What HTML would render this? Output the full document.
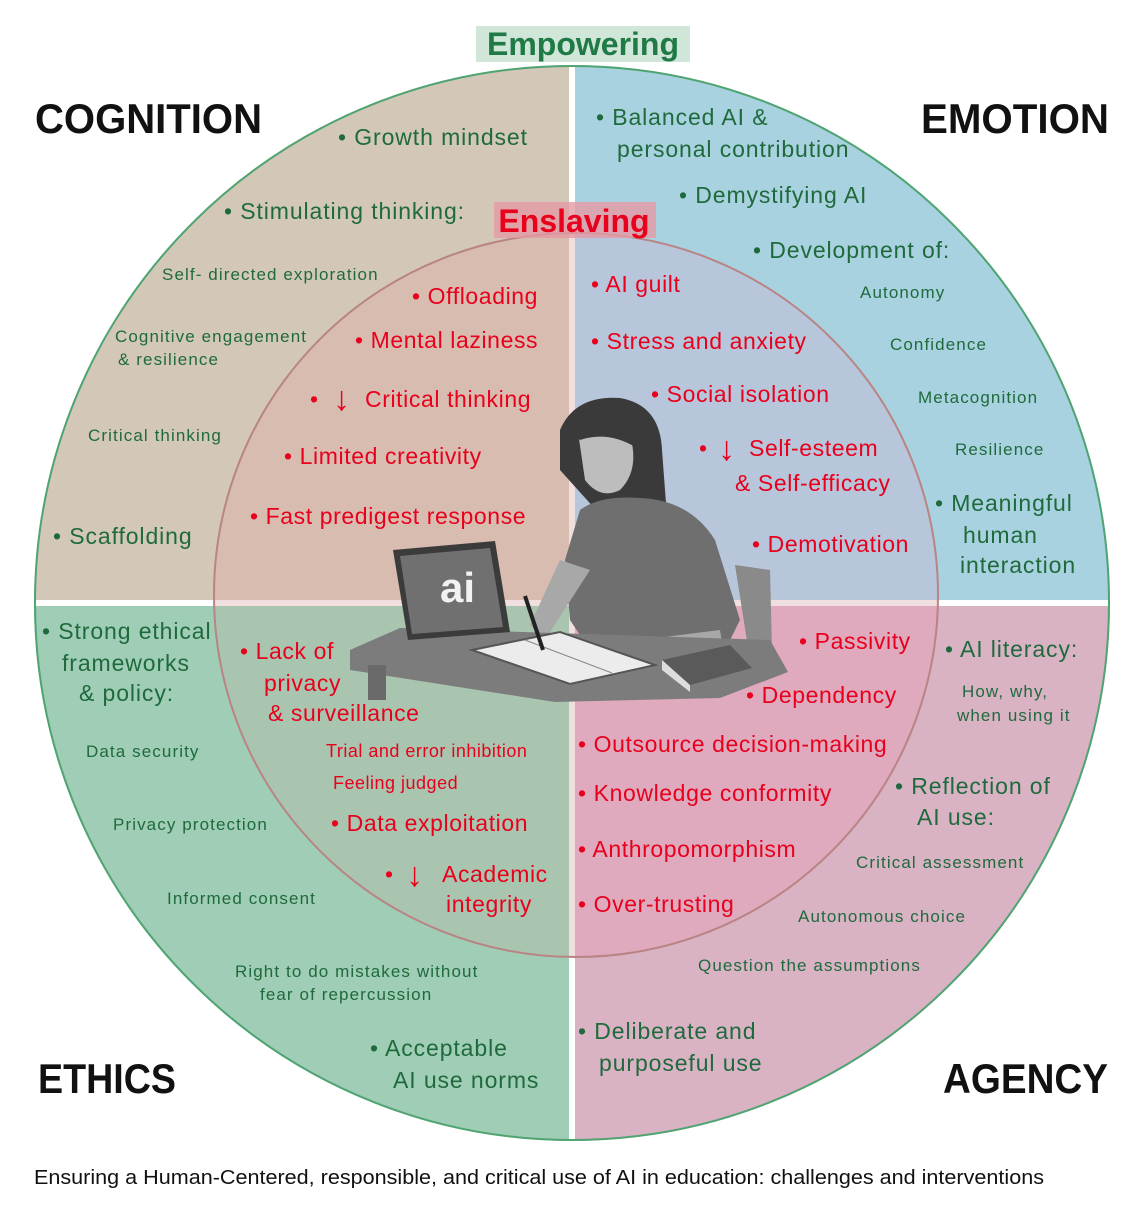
<!DOCTYPE html>
<html><head><meta charset="utf-8"><style>
html,body{margin:0;padding:0;background:#fff;}
svg{display:block;}
text{font-family:"Liberation Sans",sans-serif;}
.g{fill:#1f6a3c;font-size:23px;letter-spacing:0.9px;}
.gs{fill:#1f6a3c;font-size:17px;letter-spacing:1.1px;}
.r{fill:#e8001c;font-size:23px;letter-spacing:0.6px;}
.rs{fill:#e8001c;font-size:18px;letter-spacing:0.5px;}
.big{fill:#111;font-size:42px;font-weight:bold;}
</style></head><body>
<svg width="1134" height="1208" viewBox="0 0 1134 1208" xmlns="http://www.w3.org/2000/svg">
<defs>
<clipPath id="oc"><circle cx="572" cy="603" r="538"/></clipPath>
<clipPath id="ic"><circle cx="576" cy="595" r="362"/></clipPath>
</defs>
<g clip-path="url(#oc)">
<rect x="0" y="0" width="569" height="600" fill="#d3c8b8"/>
<rect x="575" y="0" width="600" height="600" fill="#a9d2e0"/>
<rect x="0" y="606" width="569" height="600" fill="#9fcdb5"/>
<rect x="575" y="606" width="600" height="600" fill="#d9b2c4"/>
</g>
<circle cx="572" cy="603" r="537" fill="none" stroke="#4fa472" stroke-width="2"/>
<g clip-path="url(#ic)">
<rect x="0" y="0" width="569" height="600" fill="#d8bcb0"/>
<rect x="575" y="0" width="600" height="600" fill="#b7c6da"/>
<rect x="0" y="606" width="569" height="600" fill="#a9c5b0"/>
<rect x="575" y="606" width="600" height="600" fill="#dfa9be"/>
<rect x="569" y="0" width="6" height="1208" fill="#f1dede"/>
<rect x="0" y="600" width="1134" height="6" fill="#f1dede"/>
</g>
<circle cx="576" cy="595" r="362" fill="none" stroke="#b98484" stroke-width="2"/>

<rect x="476" y="26" width="214" height="36" fill="#cfe6d9"/>
<text x="583" y="55" text-anchor="middle" style="font-size:32px;font-weight:bold;fill:#1f7a45">Empowering</text>
<rect x="494" y="202" width="162" height="36" fill="#e49aa4" opacity="0.8"/>
<text x="574" y="232" text-anchor="middle" style="font-size:32px;font-weight:bold;fill:#e8001c">Enslaving</text>

<text class="big" x="35" y="133" textLength="227" lengthAdjust="spacingAndGlyphs">COGNITION</text>
<text class="big" x="921" y="133" textLength="188" lengthAdjust="spacingAndGlyphs">EMOTION</text>
<text class="big" x="38" y="1093" textLength="138" lengthAdjust="spacingAndGlyphs">ETHICS</text>
<text class="big" x="943" y="1093" textLength="165" lengthAdjust="spacingAndGlyphs">AGENCY</text>

<text class="g" x="338" y="145">•  Growth mindset</text>
<text class="g" x="224" y="219">•  Stimulating thinking:</text>
<text class="gs" x="162" y="280">Self- directed exploration</text>
<text class="gs" x="115" y="342">Cognitive engagement</text>
<text class="gs" x="118" y="365">&amp; resilience</text>
<text class="gs" x="88" y="441">Critical thinking</text>
<text class="g" x="53" y="544">•  Scaffolding</text>

<text class="g" x="596" y="125">•  Balanced AI &amp;</text>
<text class="g" x="617" y="157">personal contribution</text>
<text class="g" x="679" y="203">•  Demystifying AI</text>
<text class="g" x="753" y="258">•  Development of:</text>
<text class="gs" x="860" y="298">Autonomy</text>
<text class="gs" x="890" y="350">Confidence</text>
<text class="gs" x="918" y="403">Metacognition</text>
<text class="gs" x="955" y="455">Resilience</text>
<text class="g" x="935" y="511">•  Meaningful</text>
<text class="g" x="963" y="543">human</text>
<text class="g" x="960" y="573">interaction</text>

<text class="g" x="42" y="639">• Strong ethical</text>
<text class="g" x="62" y="671">frameworks</text>
<text class="g" x="79" y="701">&amp; policy:</text>
<text class="gs" x="86" y="757">Data security</text>
<text class="gs" x="113" y="830">Privacy protection</text>
<text class="gs" x="167" y="904">Informed consent</text>
<text class="gs" x="235" y="977">Right to do mistakes without</text>
<text class="gs" x="260" y="1000">fear of repercussion</text>
<text class="g" x="370" y="1056">•  Acceptable</text>
<text class="g" x="393" y="1088">AI use norms</text>

<text class="g" x="945" y="657">•  AI literacy:</text>
<text class="gs" x="962" y="697">How, why,</text>
<text class="gs" x="957" y="721">when using it</text>
<text class="g" x="895" y="794">•  Reflection of</text>
<text class="g" x="917" y="825">AI use:</text>
<text class="gs" x="856" y="868">Critical assessment</text>
<text class="gs" x="798" y="922">Autonomous choice</text>
<text class="gs" x="698" y="971">Question the assumptions</text>
<text class="g" x="578" y="1039">•  Deliberate and</text>
<text class="g" x="599" y="1071">purposeful use</text>

<text class="r" x="412" y="304">•  Offloading</text>
<text class="r" x="355" y="348">•  Mental laziness</text>
<text class="r" x="310" y="407">•</text>
<text style="font-size:34px;fill:#e8001c" x="333" y="410">↓</text>
<text class="r" x="365" y="407">Critical thinking</text>
<text class="r" x="284" y="464">•  Limited creativity</text>
<text class="r" x="250" y="524">•  Fast predigest response</text>
<text class="r" x="591" y="292">• AI guilt</text>
<text class="r" x="591" y="349">•  Stress and anxiety</text>
<text class="r" x="651" y="402">•  Social isolation</text>
<text class="r" x="699" y="456">•</text>
<text style="font-size:34px;fill:#e8001c" x="718" y="460">↓</text>
<text class="r" x="749" y="456">Self-esteem</text>
<text class="r" x="735" y="491">&amp; Self-efficacy</text>
<text class="r" x="752" y="552">•  Demotivation</text>

<text class="r" x="240" y="659">•  Lack of</text>
<text class="r" x="264" y="691">privacy</text>
<text class="r" x="268" y="721">&amp; surveillance</text>
<text class="rs" x="326" y="757">Trial and error inhibition</text>
<text class="rs" x="333" y="789">Feeling judged</text>
<text class="r" x="331" y="831">•  Data exploitation</text>
<text class="r" x="385" y="882">•</text>
<text style="font-size:34px;fill:#e8001c" x="406" y="886">↓</text>
<text class="r" x="442" y="882">Academic</text>
<text class="r" x="446" y="912">integrity</text>

<text class="r" x="799" y="649">•  Passivity</text>
<text class="r" x="746" y="703">•  Dependency</text>
<text class="r" x="578" y="752">•  Outsource decision-making</text>
<text class="r" x="578" y="801">•  Knowledge conformity</text>
<text class="r" x="578" y="857">•  Anthropomorphism</text>
<text class="r" x="578" y="912">•  Over-trusting</text>

<g>
<path d="M735 565 L770 570 L772 650 L750 660 Z" fill="#8a8a8a"/>
<path d="M560 430 Q575 395 620 398 Q660 405 662 450 L668 530 Q640 545 605 520 L560 470 Z" fill="#3a3a3a"/>
<path d="M580 510 Q600 495 640 498 Q690 500 715 540 L740 620 L720 660 L600 665 L570 620 L565 560 Z" fill="#6f6f6f"/>
<path d="M560 560 L590 570 L545 640 L530 625 Z" fill="#a8a8a8"/>
<path d="M640 640 L720 630 L725 660 L650 665 Z" fill="#a8a8a8"/>
<path d="M578 432 Q600 420 630 435 Q640 470 620 490 Q600 500 585 480 Z" fill="#bdbdbd"/>
<path d="M565 425 Q590 405 625 410 L640 450 Q610 430 580 440 Z" fill="#3a3a3a"/>
<path d="M350 650 L400 628 L770 640 L788 672 L720 698 L555 702 L350 670 Z" fill="#7c7c7c"/>
<rect x="368" y="665" width="18" height="35" fill="#6a6a6a"/>
<path d="M393 550 L495 541 L510 632 L408 640 Z" fill="#3b3b3b"/>
<path d="M400 556 L490 548 L503 627 L412 634 Z" fill="#707070"/>
<text x="440" y="602" style="font-size:42px;font-weight:bold;fill:#f2f2f2">ai</text>
<path d="M472 650 L560 632 L655 665 L570 684 Z" fill="#ececec" stroke="#555" stroke-width="2"/>
<line x1="525" y1="640" x2="612" y2="673" stroke="#888"/>
<line x1="525" y1="596" x2="543" y2="650" stroke="#222" stroke-width="4"/>
<path d="M662 660 L730 645 L752 668 L690 685 Z" fill="#5a5a5a"/>
<path d="M662 660 L690 685 L690 692 L662 670 Z" fill="#dddddd"/>
</g>

<text x="34" y="1184" textLength="1010" lengthAdjust="spacingAndGlyphs" style="font-size:20px;fill:#111">Ensuring a Human-Centered, responsible, and critical use of AI in education: challenges and interventions</text>
</svg>
</body></html>
